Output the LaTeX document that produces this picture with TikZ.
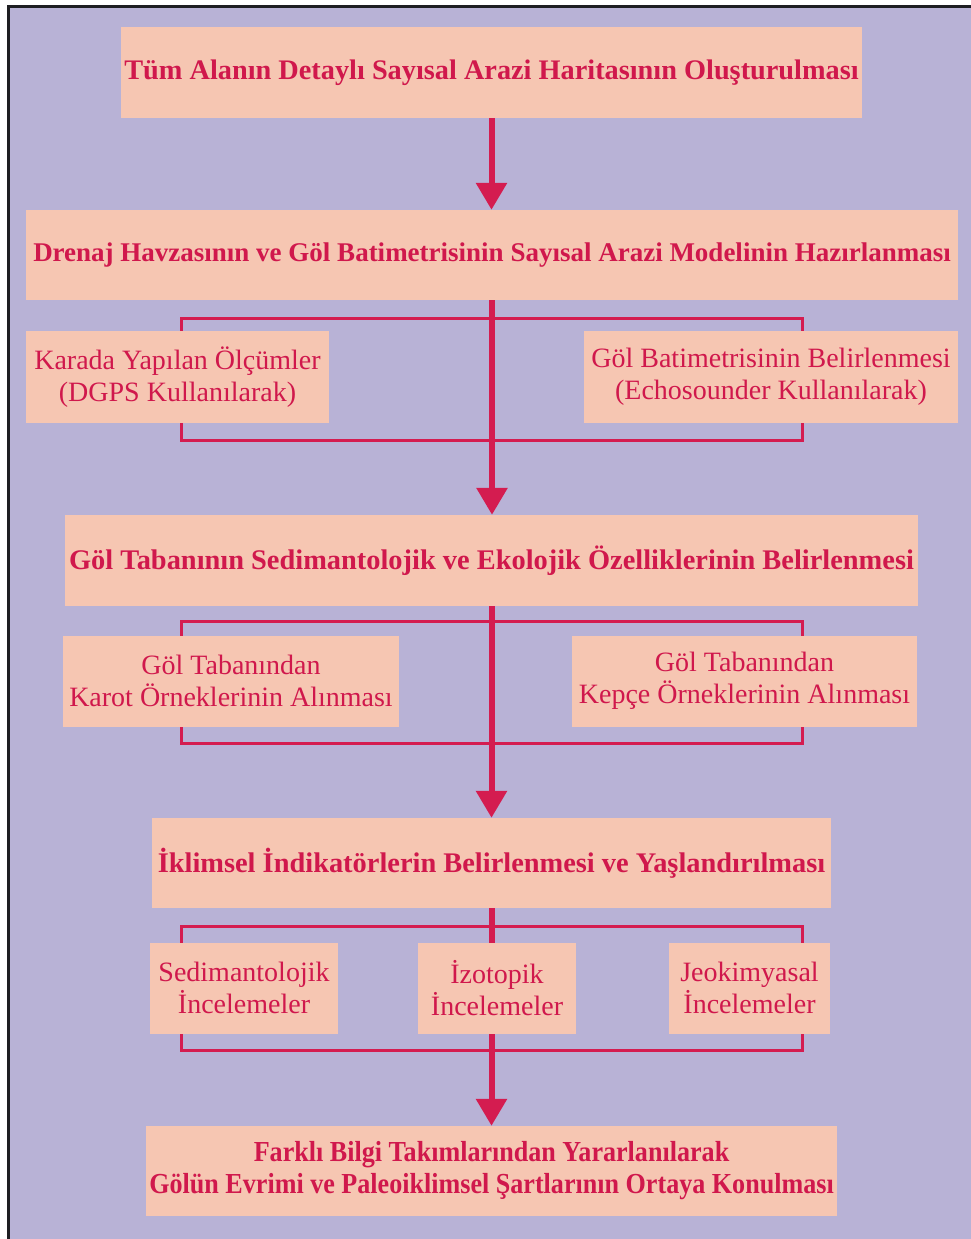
\documentclass[tikz,border=0pt]{standalone}
\usepackage{fontspec}
\setmainfont{Liberation Serif}
\newfontfamily\condfont[FakeStretch=0.9]{Liberation Serif}
\usetikzlibrary{arrows.meta}
\definecolor{lav}{HTML}{B8B2D6}
\definecolor{salmon}{HTML}{F6C6B2}
\definecolor{crim}{HTML}{D41C50}
\definecolor{txtc}{HTML}{D0184C}
\definecolor{frame}{HTML}{1E1E22}
\pgfdeclarelayer{bg}
\pgfdeclarelayer{lines}
\pgfsetlayers{bg,lines,main}
\tikzset{
  mbox/.style={fill=salmon, draw=none, inner sep=0pt, text=txtc, align=center,
    font=\fontsize{28.4}{33}\selectfont\bfseries},
  sbox/.style={fill=salmon, draw=none, inner sep=0pt, text=txtc, align=center,
    font=\fontsize{28}{32}\selectfont},
  mainarrow/.style={draw=crim, line width=6pt, -{Triangle[length=27pt,width=30pt]}},
  brk/.style={draw=crim, line width=3pt},
}
\begin{document}
\begin{tikzpicture}[x=1pt,y=-1pt]
\useasboundingbox (0,0) rectangle (971,1239);
% main boxes
\node[mbox, minimum width=741pt, minimum height=91pt, font=\fontsize{28.3}{33}\selectfont\bfseries] (b1) at (491.5,72.5) {Tüm Alanın Detaylı Sayısal Arazi Haritasının Oluşturulması};
\node[mbox, minimum width=932pt, minimum height=90pt, font=\fontsize{27}{32}\selectfont\bfseries] (b2) at (492,255) {Drenaj Havzasının ve Göl Batimetrisinin Sayısal Arazi Modelinin Hazırlanması};
\node[mbox, minimum width=853pt, minimum height=91pt] (b3) at (491.5,560.5) {Göl Tabanının Sedimantolojik ve Ekolojik Özelliklerinin Belirlenmesi};
\node[mbox, minimum width=679pt, minimum height=90pt] (b4) at (491.5,863) {İklimsel İndikatörlerin Belirlenmesi ve Yaşlandırılması};
\node[mbox, minimum width=691pt, minimum height=90pt, font=\fontsize{29}{32}\selectfont\condfont\bfseries] (b5) at (491.5,1171) {Farklı Bilgi Takımlarından Yararlanılarak\\Gölün Evrimi ve Paleoiklimsel Şartlarının Ortaya Konulması};
% sub boxes row 1
\node[sbox, minimum width=303pt, minimum height=92pt] (s11) at (177.5,377) {Karada Yapılan Ölçümler\\(DGPS Kullanılarak)};
\node[sbox, minimum width=374pt, minimum height=92pt] (s12) at (771,377) {Göl Batimetrisinin Belirlenmesi\\(Echosounder Kullanılarak)};
% sub boxes row 2
\node[sbox, minimum width=336pt, minimum height=91pt] (s21) at (231,681) {Göl Tabanından\\Karot Örneklerinin Alınması};
\node[sbox, minimum width=345pt, minimum height=91pt] (s22) at (744.5,681) {Göl Tabanından\\Kepçe Örneklerinin Alınması};
% sub boxes row 3
\node[sbox, minimum width=188pt, minimum height=91pt] (s31) at (244,988) {Sedimantolojik\\İncelemeler};
\node[sbox, minimum width=158pt, minimum height=91pt] (s32) at (497,988) {İzotopik\\İncelemeler};
\node[sbox, minimum width=161pt, minimum height=91pt] (s33) at (749.5,988) {Jeokimyasal\\İncelemeler};
% bracket corners
\coordinate (r1a) at (181,318); \coordinate (r1b) at (802,440);
\coordinate (r2a) at (181,621); \coordinate (r2b) at (802,743);
\coordinate (r3a) at (181,926); \coordinate (r3b) at (802,1050);
\begin{pgfonlayer}{bg}
  \fill[white] (0,0) rectangle (971,1239);
  \fill[lav] (8.5,6.5) rectangle (971,1239);
  \draw[frame, line width=3pt] (8.5,1239) -- (8.5,6.5) -- (971,6.5);
\end{pgfonlayer}
\begin{pgfonlayer}{lines}
  \draw[brk] (r1a) rectangle (r1b);
  \draw[brk] (r2a) rectangle (r2b);
  \draw[brk] (r3a) rectangle (r3b);
  \draw[mainarrow] (b1.south) -- (b1.south |- b2.north);
  \draw[mainarrow] (b2.south) -- (b2.south |- b3.north);
  \draw[mainarrow] (b3.south) -- (b3.south |- b4.north);
  \draw[mainarrow] (b4.south) -- (b4.south |- b5.north);
\end{pgfonlayer}
\end{tikzpicture}
\end{document}
